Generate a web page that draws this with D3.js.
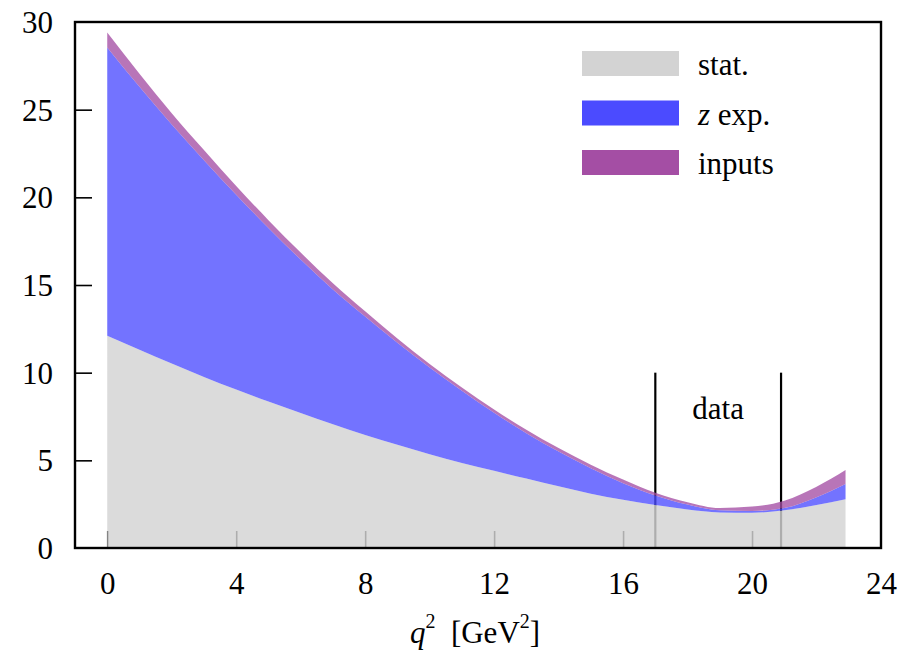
<!DOCTYPE html>
<html>
<head>
<script src="https://cdnjs.cloudflare.com/ajax/libs/d3/7.8.5/d3.min.js"></script>
<style>
body { margin: 0; background: #fff; }
</style>
</head>
<body>
<div id="chart"></div>
<script>
// q^2 grid and the three stacked error contributions
const q2     = [0, 1, 2, 3, 4, 5, 6, 7, 8, 9, 10, 11, 12, 13, 14, 15, 16, 17, 18, 19, 20, 21, 22, 22.9];
const stat   = [12.1, 11.3, 10.52, 9.76, 9.04, 8.36, 7.7, 7.06, 6.45, 5.89, 5.35, 4.85, 4.4, 3.96, 3.52, 3.1, 2.75, 2.45, 2.2, 2.03, 2.01, 2.15, 2.45, 2.78];
const zExp   = [16.45, 15.0, 13.63, 12.36, 11.11, 9.89, 8.75, 7.69, 6.75, 5.81, 4.95, 4.12, 3.32, 2.59, 1.98, 1.45, 0.95, 0.55, 0.28, 0.12, 0.1, 0.13, 0.45, 0.87];
const inputs = [0.85, 0.75, 0.65, 0.58, 0.5, 0.45, 0.4, 0.35, 0.3, 0.25, 0.2, 0.18, 0.18, 0.2, 0.2, 0.2, 0.2, 0.15, 0.13, 0.13, 0.25, 0.42, 0.6, 0.8];

const seriesKeys   = ["stat", "zExp", "inputs"];
const seriesLabels = ["stat.", "z exp.", "inputs"];
const seriesColors = ["#d3d3d3", "#4b4bff", "#a44ea4"];

const xTicks = [0, 4, 8, 12, 16, 20, 24];
const yTicks = [0, 5, 10, 15, 20, 25, 30];
const dataRegion = [17, 20.9];
const dataLineTop = 10;

const W = 921, H = 655;
const margin = { top: 22, right: 40, bottom: 107, left: 75 };
const width = W - margin.left - margin.right;
const height = H - margin.top - margin.bottom;
const fontSize = 31;
const FONT = "'Liberation Serif', 'Times New Roman', serif";

const svg = d3.select("#chart").append("svg").attr("width", W).attr("height", H);
const g = svg.append("g").attr("transform", "translate(" + margin.left + "," + margin.top + ")");

const x = d3.scaleLinear().domain([-1, 24]).range([0, width]);
const y = d3.scaleLinear().domain([0, 30]).range([height, 0]);

// rows for stacking
const rows = q2.map(function(q, i) {
    return { q: q, stat: stat[i], zExp: zExp[i], inputs: inputs[i] };
});
const stacked = d3.stack().keys(seriesKeys)(rows);

// axes (ticks pointing inward), drawn under the bands
const xAxis = g.append("g")
    .attr("transform", "translate(0," + height + ")")
    .call(d3.axisBottom(x).tickValues(xTicks).tickSize(-17).tickPadding(24));
const yAxis = g.append("g")
    .call(d3.axisLeft(y).tickValues(yTicks).tickSize(-17).tickPadding(22));

[xAxis, yAxis].forEach(function(a) {
    a.attr("font-family", null).attr("font-size", null);
    a.select(".domain").remove();
    a.selectAll(".tick line").attr("stroke", "#000").attr("stroke-width", 1.6);
});
yAxis.selectAll("text").attr("dy", "0.34em");
// no tick marks in the corners
xAxis.selectAll(".tick").filter(function(d) { return d === 24; }).select("line").remove();
yAxis.selectAll(".tick").filter(function(d) { return d === 30 || d === 0; }).select("line").remove();

// lines marking the data region
dataRegion.forEach(function(q) {
    g.append("line")
        .attr("x1", x(q)).attr("x2", x(q))
        .attr("y1", y(dataLineTop)).attr("y2", y(0))
        .attr("stroke", "#000").attr("stroke-width", 2.2);
});
g.append("text")
    .attr("x", (x(dataRegion[0]) + x(dataRegion[1])) / 2)
    .attr("y", y(dataLineTop) + 46)
    .attr("text-anchor", "middle")
    .text("data");

// stacked bands
const area = d3.area()
    .curve(d3.curveMonotoneX)
    .x(function(d) { return x(d.data.q); })
    .y0(function(d) { return y(d[0]); })
    .y1(function(d) { return y(d[1]); });

g.selectAll(".band")
    .data(stacked)
    .enter().append("path")
    .attr("class", "band")
    .attr("d", area)
    .attr("fill", function(d, i) { return seriesColors[i]; })
    .attr("fill-opacity", function(d, i) { return i === 0 ? 0.82 : 0.78; });

// frame
g.append("rect")
    .attr("width", width).attr("height", height)
    .attr("fill", "none").attr("stroke", "#000").attr("stroke-width", 2.4);

// legend
const legend = g.append("g").attr("transform", "translate(" + (582 - margin.left) + "," + (51 - margin.top) + ")");
seriesLabels.forEach(function(lab, i) {
    const row = legend.append("g").attr("transform", "translate(0," + (i * 49.5) + ")");
    row.append("rect").attr("width", 97).attr("height", 25).attr("fill", seriesColors[i]);
    const t = row.append("text").attr("x", 116).attr("y", 24);
    if (lab.indexOf("z ") === 0) {
        t.append("tspan").style("font-style", "italic").text("z");
        t.append("tspan").text(" exp.");
    } else {
        t.text(lab);
    }
});

// x axis title
const xt = svg.append("text")
    .attr("x", 475).attr("y", 643)
    .attr("text-anchor", "middle");
xt.append("tspan").style("font-style", "italic").text("q");
xt.append("tspan").attr("dy", -15).style("font-size", "20px").text("2");
xt.append("tspan").attr("dy", 15).text("\u2002[GeV");
xt.append("tspan").attr("dy", -15).style("font-size", "20px").text("2");
xt.append("tspan").attr("dy", 15).text("]");

svg.selectAll("text")
    .style("font-family", FONT)
    .style("fill", "#000");
svg.selectAll("text").filter(function() { return !this.style.fontSize; })
    .style("font-size", fontSize + "px");
</script>
</body>
</html>
